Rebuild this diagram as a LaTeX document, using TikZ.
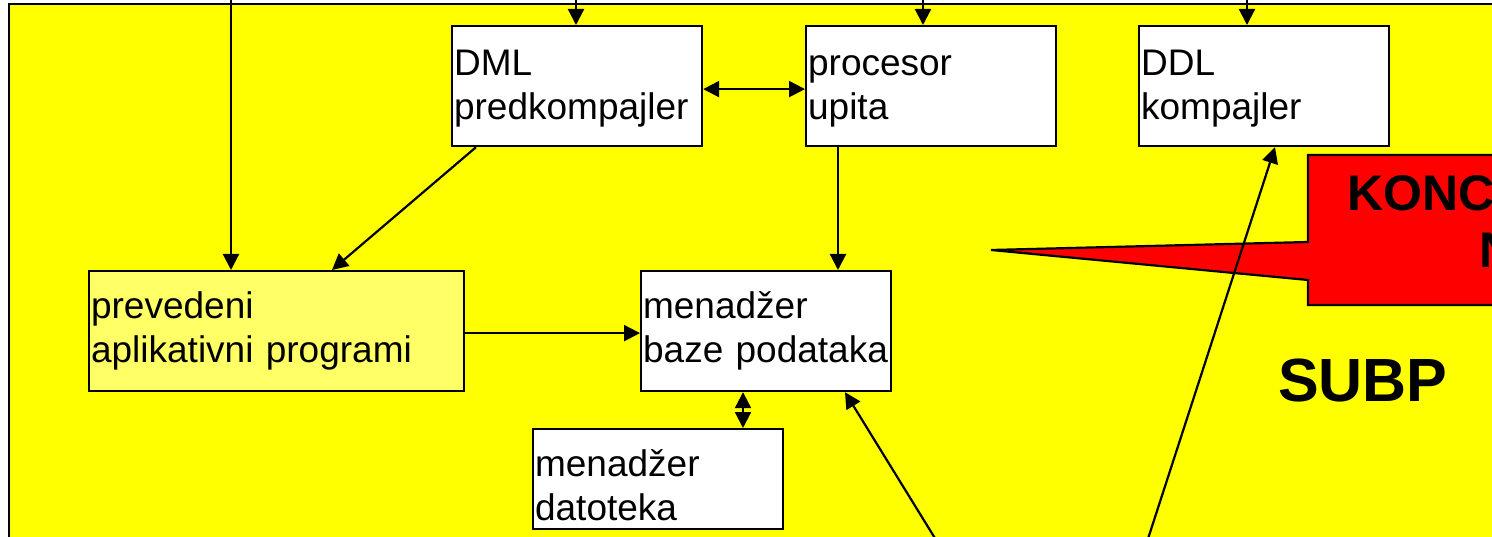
\documentclass[tikz,border=0pt]{standalone}
\usepackage{fontspec}
\setmainfont{Liberation Sans}
\usetikzlibrary{arrows.meta}
\definecolor{bgyel}{HTML}{FFFF00}
\definecolor{ltyel}{HTML}{FFFF66}
\definecolor{callred}{HTML}{FF0000}
\tikzset{
  box/.style={draw, line width=2.2pt, fill=white, anchor=north west,
    inner xsep=2pt, inner ysep=0pt, align=left,
    font=\fontsize{37}{44}\selectfont},
  toprow/.style={box, minimum width=250pt, minimum height=120pt, text width=246pt,
    text height=30pt, text depth=52pt},
  midrow/.style={box, minimum height=120pt, text height=28pt, text depth=54pt},
  arr/.style={line width=2.2pt, -{Triangle[length=16pt,width=16pt]}},
  dbl/.style={line width=2.2pt, {Triangle[length=16pt,width=16pt]}-{Triangle[length=16pt,width=16pt]}},
  bigbold/.style={anchor=base west, inner sep=0pt, font=\bfseries\fontsize{50}{57}\selectfont}
}
\begin{document}
\begin{tikzpicture}[x=1pt,y=-1pt]
\useasboundingbox (0,0) rectangle (1492,537);
\clip (0,0) rectangle (1492,537);
% background frame
\fill[bgyel] (9,4) rectangle (1520,560);
\draw[line width=2.5pt] (9,560) -- (9,4) -- (1520,4);

% boxes
\node[toprow] (dml) at (451,25) {DML\\predkompajler};
\node[toprow] (proc) at (805,25) {procesor\\upita};
\node[toprow] (ddl) at (1138,25) {DDL\\kompajler};
\node[midrow, fill=ltyel, minimum width=375pt, text width=371pt] (prev) at (88,270) {prevedeni\\aplikativni programi};
\node[midrow, minimum width=250pt, text width=246pt] (mbp) at (640,270) {menadžer\\baze podataka};
\node[box, minimum width=250pt, text width=246pt, minimum height=100pt, text height=40pt, text depth=46pt] (dat) at (532,428) {menadžer\\datoteka};

% incoming from above
\coordinate (t1) at (231,-10);
\coordinate (t2) at (576,-10);
\coordinate (t3) at (923,-10);
\coordinate (t4) at (1247,-10);
\draw[arr] (t1) -- (t1 |- prev.north);
\draw[arr] (t2) -- (t2 |- dml.north);
\draw[arr] (t3) -- (t3 |- proc.north);
\draw[arr] (t4) -- (t4 |- ddl.north);

% internal connectors
\draw[dbl] ([yshift=-3pt]dml.east) -- ([yshift=-3pt]proc.west);
\draw[arr] ([xshift=25pt]dml.south west) -- ([xshift=244pt]prev.north west);
\draw[arr] ([xshift=33pt]proc.south west) -- ([xshift=198pt]mbp.north west);
\draw[arr] ([yshift=-2pt]prev.east) -- ([yshift=-2pt]mbp.west);
\draw[dbl] ([xshift=103pt]mbp.south west) -- ([xshift=211pt]dat.north west);

% callout
\draw[line width=2.2pt, fill=callred] (1308,155) -- (1520,155) -- (1520,305) -- (1308,305)
  -- (1308,280) -- (991,250) -- (1308,242) -- cycle;
\node[bigbold] (konc) at (1347,211) {KONC};
\node[bigbold] (nline) at (1479,268) {N};

% SUBP
\node[anchor=base west, inner sep=0pt, font=\bfseries\fontsize{61}{70}\selectfont] (subp) at (1278,402) {SUBP};

% lines from below
\coordinate (b1) at (941,548);
\coordinate (b2) at (1145,548);
\draw[arr] (b1) -- ([xshift=205pt]mbp.south west);
\draw[arr] (b2) -- ([xshift=137pt]ddl.south west);
\end{tikzpicture}
\end{document}
